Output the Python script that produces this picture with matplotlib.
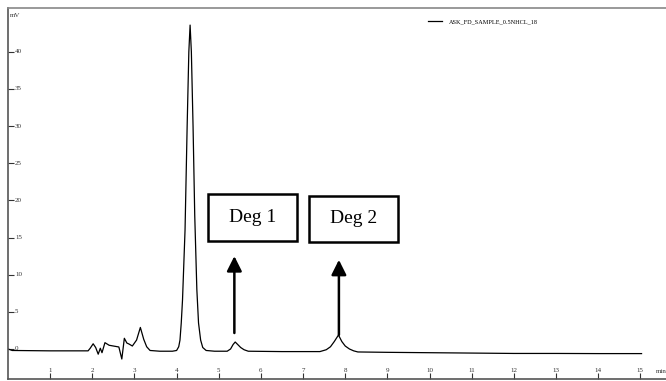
import matplotlib
matplotlib.use("Agg")
import matplotlib.pyplot as plt
from matplotlib.patches import Rectangle

# ---- data ----
time_min = [0.00, 0.10, 1.00, 1.90, 1.95, 2.02, 2.08, 2.14, 2.19, 2.23, 2.30, 2.40,
            2.55, 2.63, 2.70, 2.76, 2.82, 2.87, 2.95, 3.05, 3.14, 3.22, 3.29, 3.37,
            3.60, 3.90, 4.00, 4.05, 4.08, 4.11, 4.14, 4.20, 4.25, 4.29, 4.32, 4.35,
            4.39, 4.43, 4.48, 4.52, 4.57, 4.62, 4.70, 4.90, 5.20, 5.28, 5.34, 5.39,
            5.45, 5.52, 5.60, 5.70, 6.50, 7.40, 7.55, 7.65, 7.74, 7.84, 7.92, 8.00,
            8.10, 8.20, 8.30, 9.00, 10.00, 11.00, 12.00, 13.00, 14.00, 15.03]
signal_mv = [0.00, -0.20, -0.25, -0.25, 0.10, 0.70, 0.20, -0.70, 0.10, -0.50, 0.85, 0.50,
             0.35, 0.27, -1.35, 1.44, 0.80, 0.67, 0.40, 1.20, 2.90, 1.30, 0.30, -0.20,
             -0.30, -0.30, -0.20, 0.30, 1.20, 3.50, 6.60, 16.0, 30.0, 40.0, 43.6, 40.0,
             30.0, 18.0, 8.0, 3.5, 1.2, 0.2, -0.20, -0.30, -0.30, 0.00, 0.60, 0.94,
             0.60, 0.20, -0.10, -0.30, -0.35, -0.35, -0.10, 0.30, 1.00, 1.88, 1.00, 0.40,
             0.00, -0.25, -0.40, -0.45, -0.50, -0.55, -0.60, -0.60, -0.62, -0.62]

x_ticks = [1, 2, 3, 4, 5, 6, 7, 8, 9, 10, 11, 12, 13, 14, 15]
y_ticks = [0, 5, 10, 15, 20, 25, 30, 35, 40]
series_name = "ASK_FD_SAMPLE_0.5NHCL_18"

annot_labels = ["Deg 1", "Deg 2"]
annot_x = [5.37, 7.85]
annot_y0 = [2.15, 1.9]
annot_y1 = [12.5, 12.0]
box_x0 = [4.75, 7.15]
box_x1 = [6.85, 9.25]
box_y0 = [14.6, 14.4]
box_y1 = [20.9, 20.6]

plt.rcParams['font.family'] = ['Liberation Serif', 'DejaVu Serif']

fig = plt.figure(figsize=(6.66, 3.81), dpi=100)
ax = fig.add_axes([8 / 666, 2 / 381, 658 / 666, 371 / 381])

ax.plot(time_min, signal_mv, color='black', lw=0.9, label=series_name)

ax.set_xlim(0, 15.61)
ax.set_ylim(-4.04, 45.9)

ax.spines['right'].set_visible(False)
ax.spines['top'].set_color('#888888')
ax.spines['bottom'].set_color('#555555')
ax.spines['left'].set_color('#555555')
for s in ['top', 'bottom', 'left']:
    ax.spines[s].set_linewidth(1.2)

ax.set_xticks(x_ticks)
ax.set_xticklabels([str(v) for v in x_ticks])
ax.set_yticks(y_ticks)
ax.set_yticklabels([str(v) for v in y_ticks])
ax.tick_params(axis='x', direction='in', length=4, width=0.8, labelsize=5, pad=-8, colors='#333333')
ax.tick_params(axis='y', direction='in', length=4, width=0.8, labelsize=5, pad=-5, colors='#333333')
for lab in ax.get_yticklabels():
    lab.set_ha('left')
    lab.set_va('center')

ax.text(0.05, 45.2, "mV", fontsize=5, color='#333333', va='top', ha='left')
ax.text(15.38, -3.0, "min", fontsize=5, color='#333333', va='center', ha='left')

leg = ax.legend(loc='upper left', bbox_to_anchor=(0.63, 0.985), frameon=False,
                fontsize=4.5, handlelength=2.2, handletextpad=1.2)

for lab, xa, ya0, ya1, bx0, bx1, by0, by1 in zip(annot_labels, annot_x, annot_y0, annot_y1,
                                                  box_x0, box_x1, box_y0, box_y1):
    ax.annotate("", xy=(xa, ya1), xytext=(xa, ya0),
                arrowprops=dict(arrowstyle='-|>,head_length=0.9,head_width=0.45',
                                color='black', lw=1.8, shrinkA=0, shrinkB=0))
    ax.add_patch(Rectangle((bx0, by0), bx1 - bx0, by1 - by0, fill=False,
                           edgecolor='black', lw=1.8))
    ax.text((bx0 + bx1) / 2, (by0 + by1) / 2, lab, fontsize=14, ha='center', va='center')

fig.savefig("out.png", dpi=100)
